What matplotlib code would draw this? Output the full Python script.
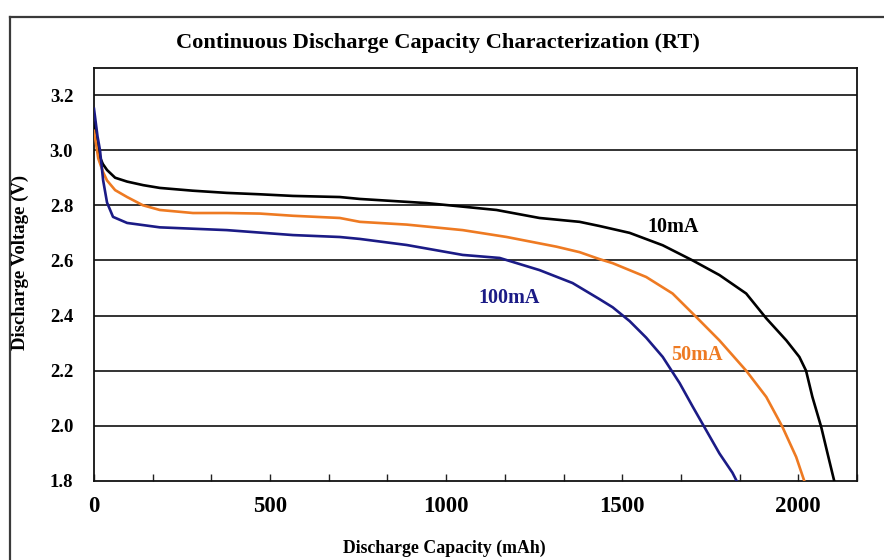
import matplotlib
matplotlib.use("Agg")
import matplotlib.pyplot as plt
from matplotlib.lines import Line2D
import numpy as np

# ---- data ----
cap_10mA = [0, 5, 15, 25, 37, 60, 94, 140, 187, 280, 377, 470, 565, 698, 755, 945,
            1143, 1265, 1379, 1435, 1521, 1615, 1700, 1776, 1852, 1909, 1966, 2003,
            2022, 2040, 2065, 2083, 2102]
volt_10mA = [3.10, 3.05, 2.98, 2.95, 2.928, 2.90, 2.886, 2.873, 2.863, 2.853, 2.845,
             2.84, 2.834, 2.83, 2.823, 2.808, 2.783, 2.754, 2.74, 2.725, 2.70, 2.655,
             2.60, 2.547, 2.48, 2.39, 2.31, 2.25, 2.20, 2.105, 1.996, 1.90, 1.80]

cap_50mA = [0, 5, 12, 26, 37, 60, 94, 139, 187, 281, 377, 471, 565, 698, 755, 888,
            1047, 1172, 1313, 1379, 1435, 1473, 1568, 1643, 1710, 1776, 1852, 1909,
            1955, 1994, 2017]
volt_50mA = [3.07, 3.03, 2.97, 2.92, 2.89, 2.855, 2.83, 2.80, 2.783, 2.772, 2.772,
             2.77, 2.762, 2.754, 2.74, 2.73, 2.71, 2.685, 2.65, 2.63, 2.605, 2.59,
             2.54, 2.48, 2.395, 2.31, 2.20, 2.105, 1.996, 1.887, 1.80]

cap_100mA = [0, 3, 10, 17, 26, 37, 54, 94, 187, 377, 565, 698, 755, 888, 1047, 1152,
             1265, 1359, 1435, 1473, 1521, 1568, 1615, 1663, 1700, 1738, 1776, 1813, 1825]
volt_100mA = [3.15, 3.12, 3.05, 3.00, 2.89, 2.81, 2.758, 2.736, 2.72, 2.71, 2.692,
              2.685, 2.678, 2.656, 2.62, 2.609, 2.565, 2.518, 2.46, 2.43, 2.38, 2.32,
              2.25, 2.155, 2.07, 1.985, 1.90, 1.83, 1.80]

x_tick_values = [0, 500, 1000, 1500, 2000]
y_tick_values = [1.8, 2.0, 2.2, 2.4, 2.6, 2.8, 3.0, 3.2]
y_grid_values = [2.0, 2.2, 2.4, 2.6, 2.8, 3.0, 3.2]

series_labels = ["10mA", "50mA", "100mA"]
series_colors = ["#000000", "#EE7A22", "#1B1B86"]

title_text = "Continuous Discharge Capacity Characterization (RT)"
xlabel_text = "Discharge Capacity (mAh)"
ylabel_text = "Discharge Voltage (V)"

# ---- figure ----
W, H = 884, 560
fig = plt.figure(figsize=(W / 100, H / 100), dpi=100)
fig.patch.set_facecolor("white")
FONT = "Liberation Serif"

ax = fig.add_axes([94 / W, 1 - 481 / H, (857 - 94) / W, (481 - 68) / H])
ax.set_xlim(0, 2166.67)
ax.set_ylim(1.8, 3.298)

for gy in y_grid_values:
    ax.axhline(gy, color="#111111", lw=1.2, zorder=1)

ax.plot(cap_10mA, volt_10mA, color=series_colors[0], lw=1.9, zorder=3)
ax.plot(cap_50mA, volt_50mA, color=series_colors[1], lw=1.9, zorder=3)
ax.plot(cap_100mA, volt_100mA, color=series_colors[2], lw=1.9, zorder=3)

lab_kw = dict(fontfamily=FONT, fontweight="bold", fontsize=14.5, ha="center", va="center", zorder=4)
ax.text(1643, 2.72, series_labels[0], color=series_colors[0], **lab_kw)
ax.text(1713, 2.257, series_labels[1], color=series_colors[1], **lab_kw)
ax.text(1180, 2.464, series_labels[2], color=series_colors[2], **lab_kw)

ax.set_xticks(x_tick_values)
ax.set_xticks(np.arange(0, 2166.67, 500 / 3), minor=True)
ax.set_xticklabels([str(v) for v in x_tick_values], fontfamily=FONT,
                   fontweight="bold", fontsize=16.5)
ax.tick_params(axis="x", which="both", direction="in", length=5, width=1.0,
               color="#222222", pad=11)
ax.set_yticks(y_tick_values)
ax.set_yticklabels([f"{v:.1f}" for v in y_tick_values], fontfamily=FONT,
                   fontweight="bold", fontsize=13.5)
ax.tick_params(axis="y", length=0, pad=15)

for s in ax.spines.values():
    s.set_color("#111111")
    s.set_linewidth(1.3)

# outer frame (chart area border)
fig.add_artist(Line2D([10 / W, 1.0], [1 - 17 / H, 1 - 17 / H], transform=fig.transFigure,
                      color="#3a3a3a", lw=1.6))
fig.add_artist(Line2D([10 / W, 10 / W], [0.0, 1 - 17 / H], transform=fig.transFigure,
                      color="#3a3a3a", lw=1.6))

# titles, fitted to the reference widths
renderer = fig.canvas.get_renderer()

def fitted(x, y, s, target_px, rot=0):
    t = fig.text(x, y, s, fontfamily=FONT, fontweight="bold", fontsize=10,
                 ha="center", va="center", rotation=rot)
    bb = t.get_window_extent(renderer)
    cur = bb.height if rot else bb.width
    t.set_fontsize(10 * target_px / cur)
    return t

fitted(438 / W, 1 - 43 / H, title_text, 525)
fitted(444 / W, 1 - 548 / H, xlabel_text, 203)
fitted(20 / W, 1 - 262 / H, ylabel_text, 175, rot=90)

fig.savefig("out.png", dpi=100, facecolor="white")
